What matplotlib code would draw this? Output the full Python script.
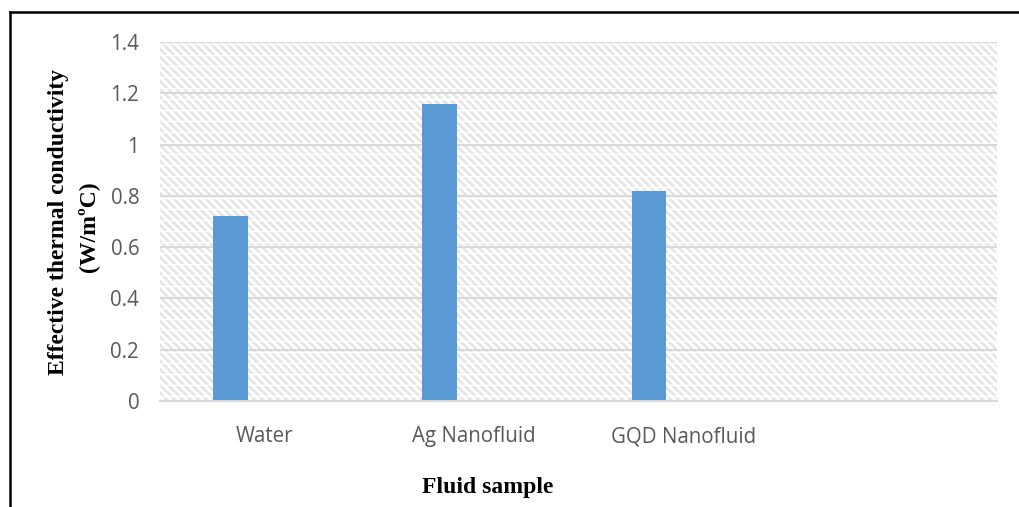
import numpy as np
import matplotlib
matplotlib.use("Agg")
import matplotlib.pyplot as plt
from matplotlib.collections import LineCollection
from matplotlib.transforms import IdentityTransform
from matplotlib.lines import Line2D

categories = ["Water", "Ag Nanofluid", "GQD Nanofluid", ""]
conductivity = [0.72, 1.16, 0.82]
y_ticks = [0, 0.2, 0.4, 0.6, 0.8, 1, 1.2, 1.4]
y_tick_labels = ["0", "0.2", "0.4", "0.6", "0.8", "1", "1.2", "1.4"]

W, H = 1019, 507
fig = plt.figure(figsize=(W / 100, H / 100), dpi=100)
ax = fig.add_axes([160 / W, 1 - 401 / H, 837 / W, 359 / H])

# patterned plot area (diagonal stripes broken by thin white rows), pixel coords
x0, y0, x1, y1 = 160, H - 401, 997, H - 42
segs = []
for c in np.arange(x0 - (y1 - y0), x1 + 8, 8):
    segs.append([(c, y1), (c + (y1 - y0), y0)])
diag = LineCollection(segs, colors="#e5e5e5", linewidths=1.9,
                      transform=IdentityTransform(), zorder=0.2)
rows = [[(x0, y), (x1, y)] for y in np.arange(y0 + 5, y1, 11)]
gaps = LineCollection(rows, colors="white", linewidths=1.0,
                      transform=IdentityTransform(), zorder=0.3)
for lc in (diag, gaps):
    ax.add_collection(lc, autolim=False)
    lc.set_clip_path(ax.patch)

x = np.arange(len(categories))
ax.bar(x[:len(conductivity)] - 0.163, conductivity, width=0.167,
       color="#5b9bd5", zorder=2)

ax.set_xlim(-0.5, len(categories) - 0.5)
ax.set_ylim(0, 1.4)
ax.set_yticks(y_ticks)
ax.set_yticklabels(y_tick_labels)
ax.set_xticks(x)
ax.set_xticklabels(categories)
ax.set_axisbelow(True)
ax.grid(axis="y", color="#d9d9d9", linewidth=1.5, zorder=0.5)
ax.tick_params(length=0, labelsize=14.8, labelcolor="#595959")
ax.tick_params(axis="x", pad=18)
ax.tick_params(axis="y", pad=15)
for lab in ax.get_xticklabels() + ax.get_yticklabels():
    lab.set_family("Open Sans")
for s in ["left", "right", "top"]:
    ax.spines[s].set_visible(False)
ax.spines["bottom"].set_color("#d9d9d9")
ax.spines["bottom"].set_linewidth(1.5)

fig.text(59 / W, 1 - 222 / H, "Effective thermal conductivity",
         rotation=90, ha="center", va="center", fontsize=17,
         fontweight="bold", family="Liberation Serif")
fig.text(88 / W, 1 - 227 / H, "(W/mºC)",
         rotation=90, ha="center", va="center", fontsize=17,
         fontweight="bold", family="Liberation Serif")
fig.text(488 / W, 1 - 488 / H, "Fluid sample", ha="center", va="center",
         fontsize=17, fontweight="bold", family="Liberation Serif")

# outer frame (cut at right and bottom)
fig.add_artist(Line2D([10 / W, 1], [1 - 12 / H, 1 - 12 / H],
                      color="black", linewidth=1.8, transform=fig.transFigure))
fig.add_artist(Line2D([10 / W, 10 / W], [1 - 12 / H, 0],
                      color="black", linewidth=1.8, transform=fig.transFigure))

fig.savefig("out.png", dpi=100)
